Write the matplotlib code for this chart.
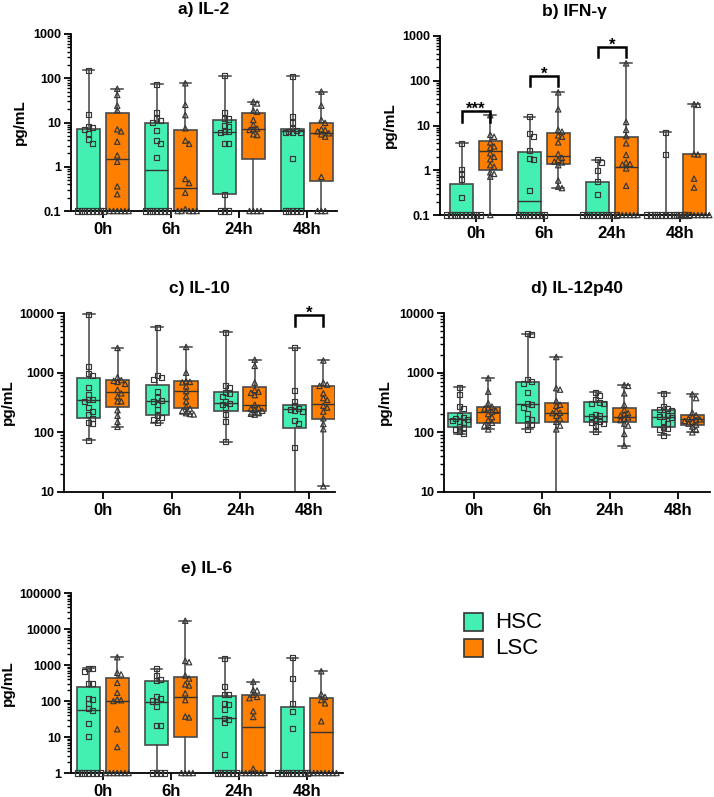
import numpy as np
import matplotlib
matplotlib.use("Agg")
import matplotlib.pyplot as plt
from matplotlib.patches import Rectangle
from matplotlib.ticker import LogLocator, NullFormatter, FixedLocator

plt.rcParams['font.family'] = ['Liberation Sans', 'DejaVu Sans']

times = ['0h', '6h', '24h', '48h']
hsc_color = '#44EFB2'
lsc_color = '#FF7F00'

# ---- data: points per time point, box stats as (q1, median, q3) ----
# a) IL-2
il2_hsc = [[150, 15, 8, 7.8, 7, 5.5, 4.2, 3.4] + [0.1] * 8,
           [73, 16.5, 12, 11, 9.8, 6.5, 4, 3.4, 1.6] + [0.1] * 7,
           [115, 16.5, 12.5, 12, 8.7, 8.3, 6.2, 6.2, 5.8, 3.4, 3.3, 0.24, 0.1, 0.1, 0.1],
           [110, 13.5, 10, 7.4, 6.5, 6.2, 6, 6, 5.8, 1.55] + [0.1] * 5]
il2_lsc = [[58, 42, 24, 19, 7, 6.3, 3.7, 1.8, 1.3, 0.36, 0.24] + [0.1] * 6,
           [77, 25, 14.7, 7.4, 3.9, 3.3, 0.53, 0.43, 0.26, 0.11] + [0.1] * 5,
           [29.5, 27, 18.5, 17.5, 11.4, 8.8, 7.3, 7, 6.8, 5.4, 5.2] + [0.1] * 4,
           [50, 24, 11.4, 9.8, 7, 6.8, 6.3, 5.7, 5.4, 4.8, 0.59] + [0.1] * 3]
il2_hsc_box = [(0.1, 0.1, 7.0), (0.1, 0.85, 9.8), (0.24, 6.2, 11.5), (0.1, 6.5, 7.3)]
il2_lsc_box = [(0.1, 1.5, 16.5), (0.1, 0.33, 6.7), (1.5, 7.0, 16.0), (0.48, 5.7, 10.0)]

# b) IFN-gamma
ifng_hsc = [[4, 1.05, 0.83, 0.61, 0.25] + [0.1] * 10,
            [15.8, 6.5, 5.7, 2.75, 1.8, 1.75, 0.35] + [0.1] * 8,
            [1.7, 1.48, 0.97, 0.57, 0.29] + [0.1] * 10,
            [7.1, 2.2] + [0.1] * 12]
ifng_lsc = [[17, 6.2, 5.6, 4.2, 3.4, 3.2, 2.4, 2.0, 1.76, 1.3, 1.2, 0.9, 0.83, 0.72, 0.1],
            [55, 23, 8, 7.3, 6.0, 5.6, 4.2, 2.3, 1.9, 1.7, 1.56, 1.5, 1.3, 0.59, 0.43, 0.4],
            [245, 12, 8, 5.8, 4.0, 2.2, 1.5, 1.38, 1.35, 1.1, 0.45] + [0.1] * 6,
            [30, 29, 2.3, 2.25, 0.65, 0.41] + [0.1] * 9]
ifng_hsc_box = [(0.1, 0.1, 0.5), (0.1, 0.21, 2.6), (0.1, 0.1, 0.56), (0.1, 0.1, 0.1)]
ifng_lsc_box = [(1.0, 2.7, 4.4), (1.36, 2.1, 6.7), (0.1, 1.2, 5.5), (0.1, 0.1, 2.3)]

# c) IL-10
il10_hsc = [[9500, 1270, 950, 900, 570, 425, 360, 350, 330, 263, 225, 200, 172, 148, 142, 74],
            [5780, 890, 830, 760, 490, 385, 340, 330, 290, 237, 195, 178, 167, 145],
            [4750, 600, 570, 465, 450, 400, 330, 307, 290, 263, 200, 150, 70],
            [2630, 500, 335, 280, 250, 240, 230, 223, 157, 142, 56, 8]]
il10_lsc = [[2600, 840, 750, 730, 700, 650, 515, 450, 400, 330, 330, 235, 190, 150, 124],
            [2700, 1000, 720, 700, 690, 590, 490, 400, 330, 270, 250, 230, 210, 203, 200],
            [1650, 1300, 680, 515, 480, 460, 420, 290, 260, 250, 240, 230, 210, 205, 198],
            [1600, 680, 630, 600, 450, 375, 350, 280, 260, 223, 172, 138, 113, 12.5]]
il10_hsc_box = [(177, 350, 810), (198, 340, 625), (232, 307, 477), (120, 245, 290)]
il10_lsc_box = [(270, 470, 760), (253, 490, 720), (228, 290, 570), (165, 300, 590)]

# d) IL-12p40
il12_hsc = [[570, 435, 270, 250, 188, 180, 170, 165, 160, 150, 147, 125, 121, 110, 103, 94],
            [4500, 4400, 760, 700, 650, 465, 300, 296, 260, 203, 170, 167, 135, 133, 112],
            [470, 410, 350, 320, 310, 300, 200, 190, 185, 160, 150, 145, 140, 130, 103],
            [450, 270, 250, 237, 230, 200, 190, 183, 175, 150, 140, 121, 115, 110, 90]]
il12_lsc = [[810, 480, 307, 270, 260, 250, 230, 223, 203, 180, 160, 145, 133, 130, 112],
            [1830, 550, 520, 335, 290, 278, 230, 214, 210, 190, 170, 150, 130, 112, 8],
            [620, 600, 450, 290, 237, 210, 200, 190, 178, 170, 160, 140, 130, 94, 60],
            [435, 375, 214, 193, 180, 170, 165, 160, 155, 150, 140, 135, 125, 110, 100]]
il12_hsc_box = [(121, 165, 209), (142, 296, 685), (150, 190, 320), (121, 183, 237)]
il12_lsc_box = [(142, 223, 270), (150, 214, 316), (150, 178, 260), (131, 165, 193)]

# e) IL-6
il6_hsc = [[810, 780, 650, 310, 300, 118, 110, 86, 60, 56, 23.7, 10.5] + [1] * 7,
           [780, 510, 400, 360, 130, 115, 100, 95, 72, 21, 21.5] + [1] * 4,
           [1530, 250, 155, 150, 86, 80, 58, 33, 30, 25, 3.2] + [1] * 6,
           [1580, 425, 86, 50, 17] + [1] * 9]
il6_lsc = [[1650, 610, 550, 320, 170, 110, 105, 100, 16.5, 5.3] + [1] * 7,
           [17000, 1300, 1200, 510, 420, 290, 270, 163, 106, 35, 37] + [1] * 4,
           [345, 195, 200, 150, 130, 120, 52, 36, 1.32] + [1] * 7,
           [670, 155, 130, 106, 86, 27.5] + [1] * 8]
il6_hsc_box = [(1, 56, 250), (5.9, 95, 360), (1, 33, 140), (1, 1, 69)]
il6_lsc_box = [(1, 100, 445), (9.7, 130, 470), (1, 19, 150), (1, 14, 118)]

# significance brackets: (time index, leg y, top y, label)
ifng_sig = [(0, 11.8, 21, '***'), (1, 76, 128, '*'), (2, 345, 580, '*')]
il10_sig = [(3, 6100, 9300, '*')]

panels = [
    dict(title='a) IL-2', hsc=il2_hsc, lsc=il2_lsc, hbox=il2_hsc_box, lbox=il2_lsc_box,
         yticks=[0.1, 1, 10, 100, 1000], ylabels=['0.1', '1', '10', '100', '1000'],
         rect=(71, 34, 337, 211), xlim=(-0.47, 3.44), ylab_px=44, sig=[]),
    dict(title='b) IFN-γ', hsc=ifng_hsc, lsc=ifng_lsc, hbox=ifng_hsc_box, lbox=ifng_lsc_box,
         yticks=[0.1, 1, 10, 100, 1000], ylabels=['0.1', '1', '10', '100', '1000'],
         rect=(440, 36, 709, 215), xlim=(-0.53, 3.43), ylab_px=43, sig=ifng_sig),
    dict(title='c) IL-10', hsc=il10_hsc, lsc=il10_lsc, hbox=il10_hsc_box, lbox=il10_lsc_box,
         yticks=[10, 100, 1000, 10000], ylabels=['10', '100', '1000', '10000'],
         rect=(64, 313, 335, 492), xlim=(-0.57, 3.38), ylab_px=49, sig=il10_sig),
    dict(title='d) IL-12p40', hsc=il12_hsc, lsc=il12_lsc, hbox=il12_hsc_box, lbox=il12_lsc_box,
         yticks=[10, 100, 1000, 10000], ylabels=['10', '100', '1000', '10000'],
         rect=(444, 313, 710, 492), xlim=(-0.44, 3.47), ylab_px=52, sig=[]),
    dict(title='e) IL-6', hsc=il6_hsc, lsc=il6_lsc, hbox=il6_hsc_box, lbox=il6_lsc_box,
         yticks=[1, 10, 100, 1000, 10000, 100000],
         ylabels=['1', '10', '100', '1000', '10000', '100000'],
         rect=(71, 593, 343, 773), xlim=(-0.47, 3.53), ylab_px=56, sig=[]),
]

W, H = 714, 797
fig = plt.figure(figsize=(W / 100, H / 100), dpi=100)

offset = 0.21
box_w = 0.34


def swarm(ax, x0, vals, step=3.8, size=4.2):
    # spread points with overlapping y values sideways (Prism-like column scatter)
    pts = ax.transData.transform(np.column_stack([np.full(len(vals), x0), vals]))
    placed = []
    for px, py in pts:
        k = 0
        while True:
            m = (k + 1) // 2
            off = m * step * (1 if k % 2 else -1)
            x = px + off
            if all(abs(x - qx) >= step * 0.95 or abs(py - qy) >= size for qx, qy in placed):
                break
            k += 1
        placed.append((x, py))
    out = ax.transData.inverted().transform(np.array(placed))
    return out[:, 0]


for p in panels:
    l, t, r, b = p['rect']
    ax = fig.add_axes([l / W, 1 - b / H, (r - l) / W, (b - t) / H])
    ax.set_yscale('log')
    ax.set_ylim(p['yticks'][0], p['yticks'][-1])
    ax.set_xlim(*p['xlim'])

    for vals, box, shift, color, marker in [(p['hsc'], p['hbox'], -offset, hsc_color, 's'),
                                            (p['lsc'], p['lbox'], offset, lsc_color, '^')]:
        stats = []
        for v, (q1, med, q3) in zip(vals, box):
            stats.append(dict(med=med, q1=q1, q3=q3, whislo=min(v), whishi=max(v)))
        pos = np.arange(len(times)) + shift
        ax.bxp(stats, positions=pos, widths=box_w, capwidths=0.17, showfliers=False,
               patch_artist=True,
               boxprops=dict(facecolor=color, edgecolor='#4a4a4a', linewidth=1.2),
               medianprops=dict(color='#333333', linewidth=1.0),
               whiskerprops=dict(color='#444444', linewidth=1.1),
               capprops=dict(color='#444444', linewidth=1.1), zorder=2)
        ylo = p['yticks'][0]
        for i, v in enumerate(vals):
            v = np.array([x for x in sorted(v, reverse=True) if x >= ylo])
            xs = swarm(ax, pos[i], v)
            ax.scatter(xs, v, marker=marker, s=13 if marker == 's' else 15,
                       facecolors='none', edgecolors='#363636', linewidths=0.85,
                       zorder=4, clip_on=False)

    for i, ylo_b, ytop, lab in p['sig']:
        x1, x2 = i - offset, i + offset
        ax.plot([x1, x1, x2, x2], [ylo_b, ytop, ytop, ylo_b], color='black', lw=1.8,
                clip_on=False, zorder=5, solid_joinstyle='miter')
        ax.annotate(lab, xy=(i, ytop), xytext=(0, -2), textcoords='offset points',
                    ha='center', va='baseline', fontsize=12, fontweight='bold',
                    annotation_clip=False)

    ax.spines['top'].set_visible(False)
    ax.spines['right'].set_visible(False)
    for s in ['left', 'bottom']:
        ax.spines[s].set_linewidth(1.3)
    ax.yaxis.set_major_locator(FixedLocator(p['yticks']))
    ax.set_yticklabels(p['ylabels'])
    ax.yaxis.set_minor_locator(LogLocator(base=10, subs=np.arange(2, 10)))
    ax.yaxis.set_minor_formatter(NullFormatter())
    ax.set_xticks(range(len(times)))
    ax.set_xticklabels(times)
    ax.tick_params(axis='y', which='major', length=5, width=1.3, labelsize=9, pad=2)
    ax.tick_params(axis='y', which='minor', length=3, width=1.0)
    ax.tick_params(axis='x', length=5, width=1.3, labelsize=12, pad=3)
    for lab in ax.get_xticklabels() + ax.get_yticklabels():
        lab.set_fontweight('bold')
    ax.set_ylabel('pg/mL', fontsize=11, fontweight='bold')
    ax.yaxis.set_label_coords(-p['ylab_px'] / (r - l), 0.5)
    ax.text(0.5, 1 + 20 / (b - t), p['title'], transform=ax.transAxes, ha='center',
            va='baseline', fontsize=12.5, fontweight='bold')

# legend
for (label, color, top) in [('HSC', hsc_color, 613), ('LSC', lsc_color, 639)]:
    fig.add_artist(Rectangle((464 / W, 1 - (top + 18) / H), 19 / W, 18 / H,
                             transform=fig.transFigure, facecolor=color,
                             edgecolor='#333333', linewidth=1.2))
    fig.text(495 / W, 1 - (top + 9.5) / H, label, ha='left', va='center', fontsize=16)

fig.savefig('out.png', dpi=100)
